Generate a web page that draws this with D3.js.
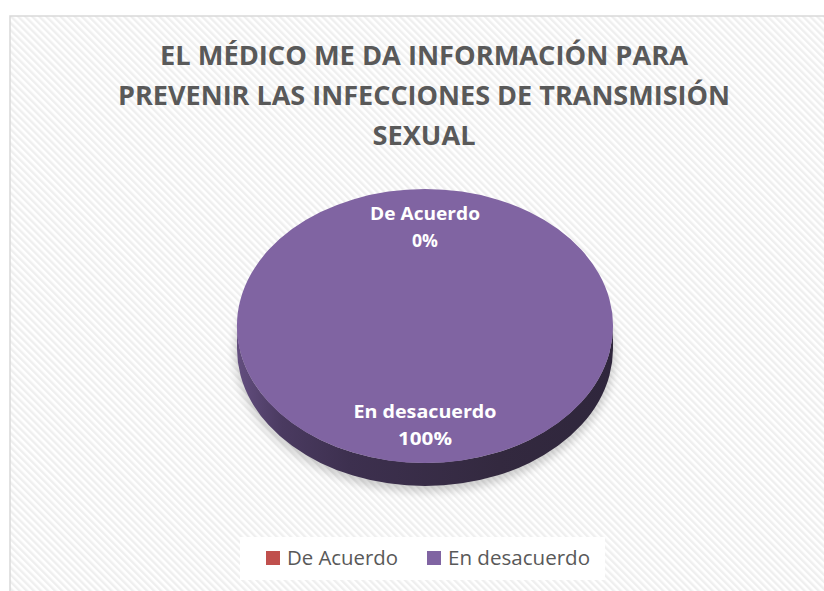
<!DOCTYPE html>
<html><head><meta charset="utf-8">
<script src="https://cdn.jsdelivr.net/npm/d3@7"></script>
<style>html,body{margin:0;padding:0;background:#fff;}svg{display:block;}</style>
</head><body>
<script>
const titleLines = ["EL MÉDICO ME DA INFORMACIÓN PARA", "PREVENIR LAS INFECCIONES DE TRANSMISIÓN", "SEXUAL"];
const categories = ["De Acuerdo", "En desacuerdo"];
const values = [0, 100];
const percentLabels = ["0%", "100%"];
const colors = ["#C0504D", "#8064A2"];

const W = 824, H = 591;
const svg = d3.select("body").append("svg").attr("width", W).attr("height", H);
const defs = svg.append("defs");

const pat = defs.append("pattern").attr("id", "stripes").attr("patternUnits", "userSpaceOnUse")
  .attr("width", 5).attr("height", 5).attr("patternTransform", "rotate(-45)");
pat.append("rect").attr("width", 5).attr("height", 5).attr("fill", "#ffffff");
pat.append("rect").attr("width", 2.4).attr("height", 5).attr("fill", "#efefef");

const sideGrad = defs.append("linearGradient").attr("id", "sideGrad").attr("x1", "0").attr("x2", "1").attr("y1", "0").attr("y2", "0");
sideGrad.append("stop").attr("offset", "0").attr("stop-color", "#634e7f");
sideGrad.append("stop").attr("offset", "0.12").attr("stop-color", "#4a3a60");
sideGrad.append("stop").attr("offset", "0.3").attr("stop-color", "#3d304f");
sideGrad.append("stop").attr("offset", "0.7").attr("stop-color", "#33293f");
sideGrad.append("stop").attr("offset", "1").attr("stop-color", "#2f263c");

const blur = defs.append("filter").attr("id", "shadowBlur").attr("x", "-20%").attr("y", "-50%").attr("width", "140%").attr("height", "200%");
blur.append("feGaussianBlur").attr("stdDeviation", 4);

// background + frame
svg.append("rect").attr("x", 10).attr("y", 16).attr("width", 830).attr("height", 600)
  .attr("fill", "url(#stripes)").attr("stroke", "#d9d9d9").attr("stroke-width", 1.5);

// title
const titleG = svg.append("g").attr("font-family", "'Open Sans', Lato, sans-serif")
  .attr("font-weight", "bold").attr("fill", "#595959").attr("font-size", 27.5);
const titleWidths = [528, 612, 103];
titleG.selectAll("text").data(titleLines).join("text")
  .attr("x", 424).attr("y", (d, i) => 65 + i * 40)
  .attr("text-anchor", "middle")
  .attr("textLength", (d, i) => titleWidths[i]).attr("lengthAdjust", "spacingAndGlyphs")
  .text(d => d);

// pie
const cx = 425, cy = 326, rx = 188, ry = 137, depth = 23;
const pie = d3.pie().sort(null).startAngle(0).endAngle(2 * Math.PI);
const arcs = pie(values);

const pt = (a, dy) => [cx + rx * Math.sin(a), cy - ry * Math.cos(a) + (dy || 0)];

// shadow
svg.append("ellipse").attr("cx", cx).attr("cy", cy + depth + 4).attr("rx", rx + 2).attr("ry", ry + 2)
  .attr("fill", "#000").attr("opacity", 0.18).attr("filter", "url(#shadowBlur)");

// side walls (front half: angles between PI/2 and 3PI/2)
function sidePath(d) {
  const s = Math.max(d.startAngle, Math.PI / 2), e = Math.min(d.endAngle, 3 * Math.PI / 2);
  if (e <= s) return null;
  const p0 = pt(s), p1 = pt(e), p2 = pt(e, depth), p3 = pt(s, depth);
  const large = (e - s) > Math.PI ? 1 : 0;
  return `M${p0}A${rx},${ry} 0 ${large} 1 ${p1}L${p2}A${rx},${ry} 0 ${large} 0 ${p3}Z`;
}
svg.append("g").selectAll("path").data(arcs.filter(d => sidePath(d))).join("path")
  .attr("d", sidePath)
  .attr("fill", "url(#sideGrad)");

// top face
const arcGen = d3.arc().innerRadius(0).outerRadius(rx);
const topG = svg.append("g").attr("transform", `translate(${cx},${cy}) scale(1,${ry / rx})`);
topG.selectAll("path").data(arcs).join("path")
  .attr("d", arcGen)
  .attr("fill", (d, i) => colors[i]);

// data labels
const labelArc = d3.arc().innerRadius(rx * 0.72).outerRadius(rx * 0.72);
const labelG = svg.append("g").attr("font-family", "'Open Sans', Lato, sans-serif")
  .attr("font-weight", "bold").attr("fill", "#ffffff").attr("font-size", 18);
const catWidths = [110, 143];
const pctWidths = [26, 54];
arcs.forEach((d, i) => {
  const mid = (d.startAngle + d.endAngle) / 2;
  const [lx, ly0] = labelArc.centroid({startAngle: mid, endAngle: mid});
  const x = cx + lx, y = cy + ly0 * ry / rx;
  labelG.append("text").attr("x", x).attr("y", y - 7).attr("text-anchor", "middle")
    .attr("textLength", catWidths[i]).attr("lengthAdjust", "spacingAndGlyphs").text(categories[i]);
  labelG.append("text").attr("x", x).attr("y", y + 20).attr("text-anchor", "middle")
    .attr("textLength", pctWidths[i]).attr("lengthAdjust", "spacingAndGlyphs").text(percentLabels[i]);
});

// legend
const legG = svg.append("g");
legG.append("rect").attr("x", 240).attr("y", 537).attr("width", 365).attr("height", 43).attr("fill", "#ffffff");
const legX = [266, 427], legTW = [111, 142];
const items = legG.selectAll("g.item").data(categories).join("g").attr("class", "item");
items.append("rect").attr("x", (d, i) => legX[i]).attr("y", 551).attr("width", 14).attr("height", 14)
  .attr("fill", (d, i) => colors[i]);
items.append("text").attr("x", (d, i) => legX[i] + 21).attr("y", 565)
  .attr("font-family", "'Open Sans', Lato, sans-serif").attr("font-size", 20).attr("fill", "#595959")
  .attr("textLength", (d, i) => legTW[i]).attr("lengthAdjust", "spacingAndGlyphs")
  .text(d => d);
</script>
</body></html>
